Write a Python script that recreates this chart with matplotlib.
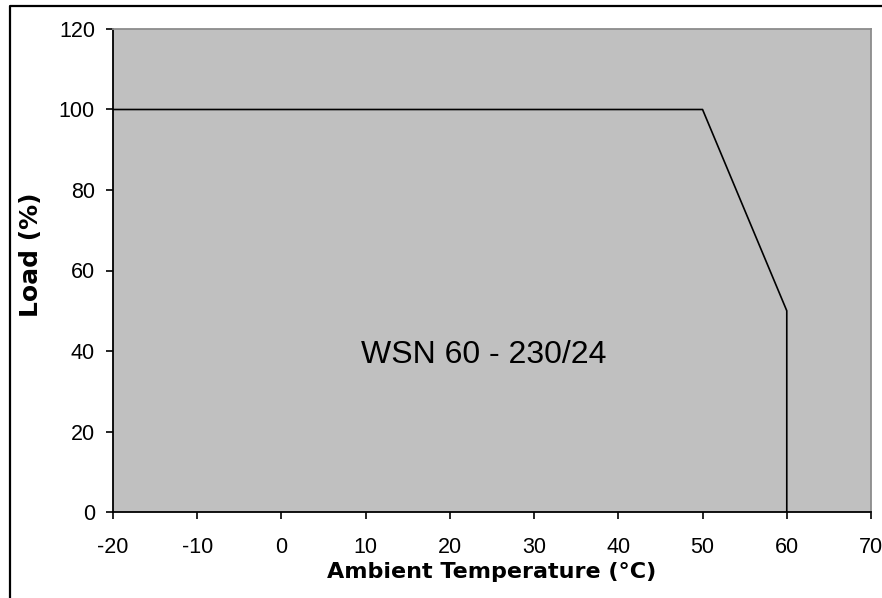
import matplotlib
matplotlib.use("Agg")
import matplotlib.pyplot as plt
from matplotlib.lines import Line2D

# フォント
plt.rcParams["font.family"] = ["Liberation Sans", "DejaVu Sans"]
plt.rcParams["axes.unicode_minus"] = False

# データ（曲線の折れ点）
temp = [-20, 50, 60, 60]
load = [100, 100, 50, 0]
x_ticks = [-20, -10, 0, 10, 20, 30, 40, 50, 60, 70]
y_ticks = [0, 20, 40, 60, 80, 100, 120]
model_name = "WSN 60 - 230/24"

fig = plt.figure(figsize=(8.82, 5.98), dpi=100)
ax = fig.add_axes([113 / 882, 1 - 512 / 598, (871 - 113) / 882, (512 - 29) / 598])

ax.set_facecolor("#c0c0c0")
ax.plot(temp, load, color="black", linewidth=1.2)

ax.set_xlim(-20, 70)
ax.set_ylim(0, 120)
ax.set_xticks(x_ticks)
ax.set_yticks(y_ticks)

ax.tick_params(axis="both", direction="out", length=5, width=1.2,
               labelsize=15.5, colors="black")
ax.tick_params(axis="x", pad=13)
ax.tick_params(axis="y", pad=8)

for side in ["left", "bottom"]:
    ax.spines[side].set_color("black")
    ax.spines[side].set_linewidth(1.3)
for side in ["top", "right"]:
    ax.spines[side].set_color("#8c8c8c")
    ax.spines[side].set_linewidth(1.3)

# 軸ラベルは幅の広い太字フォントで
ax.set_xlabel("Ambient Temperature (°C)", fontsize=16, fontweight="bold",
              family="DejaVu Sans", labelpad=3)
ax.set_ylabel("Load (%)", fontsize=18, fontweight="bold", family="DejaVu Sans")
ax.yaxis.set_label_coords(-0.093, 0.532)

ax.text(24.0, 39, model_name, fontsize=23, ha="center", va="center", color="black")

# 外枠（左と上）
fig.add_artist(Line2D([10 / 882, 10 / 882, 1.0], [0.0, 1 - 6 / 598, 1 - 6 / 598],
                      transform=fig.transFigure, color="black", linewidth=1.6))

fig.savefig("out.png", dpi=100)
